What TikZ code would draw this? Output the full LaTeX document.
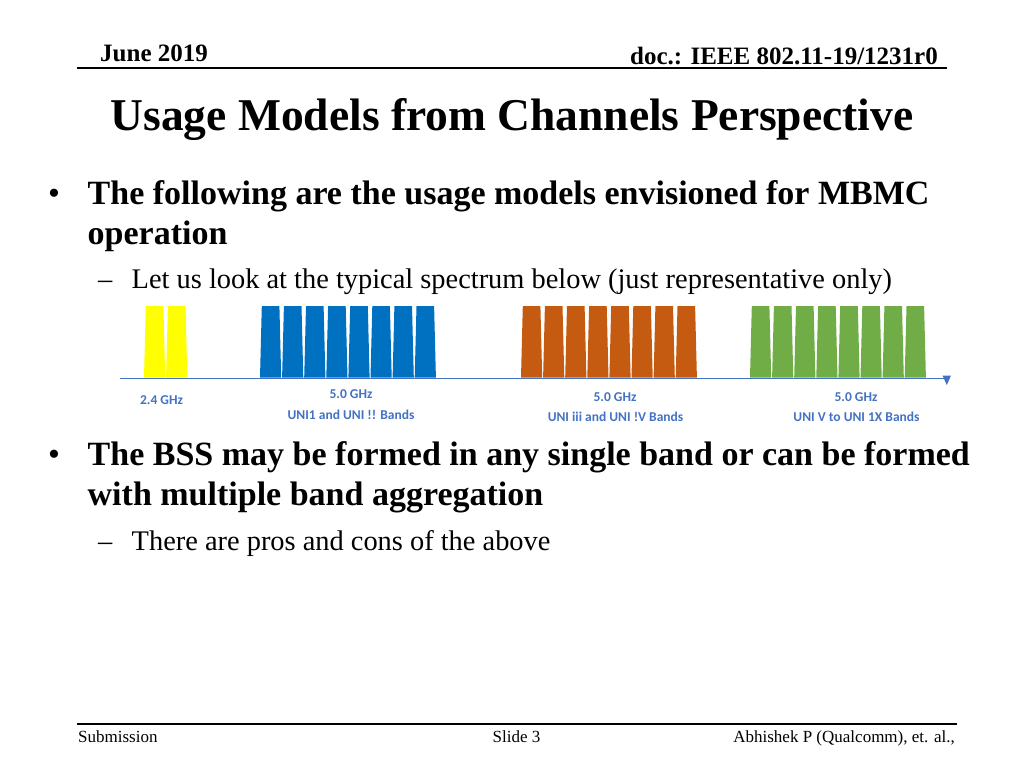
\documentclass[tikz,border=0pt]{standalone}
\usepackage{fontspec}
\setmainfont{Liberation Serif}
\newfontfamily\bandfont{Carlito}
\definecolor{bandyellow}{HTML}{FFFF00}
\definecolor{bandblue}{HTML}{0070C0}
\definecolor{bandorange}{HTML}{C55A11}
\definecolor{bandgreen}{HTML}{70AD47}
\definecolor{axisblue}{HTML}{4472C4}

\begin{document}
\begin{tikzpicture}[x=1pt, y=-1pt,
    headtext/.style = {inner sep=0pt, font=\fontsize{25}{30}\selectfont\bfseries},
    foottext/.style = {inner sep=0pt, font=\fontsize{17}{20}\selectfont},
    bullettext/.style = {inner sep=0pt, anchor=base west, font=\fontsize{34}{41}\selectfont\bfseries},
    subtext/.style = {inner sep=0pt, anchor=base west, font=\fontsize{28.4}{34}\selectfont},
    bandlabel/.style = {inner sep=0pt, text=axisblue, font=\bandfont\fontsize{13.5}{16}\selectfont\bfseries}]
  \useasboundingbox (0,0) rectangle (1024,768);
  \fill[white] (0,0) rectangle (1024,768);

  % header
  \node [headtext, anchor=base west] (date) at (100,61) {June 2019};
  \node [headtext, anchor=base east] (doc) at (938,64.3) {doc.: IEEE 802.11-19/1231r0};
  \draw [line width=1.4pt] (77,68) -- (947,68);

  \node [inner sep=0pt, anchor=base, font=\fontsize{45.5}{50}\selectfont\bfseries] (title) at (512,130.7) {Usage Models from Channels Perspective};

  % first bullet
  \node [bullettext, font=\fontsize{34}{41}\selectfont] (dot1) at (48,204) {•};
  \node [bullettext] (b1a) at (87.5,204) {The following are the usage models envisioned for MBMC};
  \node [bullettext] (b1b) at (87.5,244.5) {operation};
  \node [subtext] (dash1) at (98,288) {–};
  \node [subtext] (s1) at (131.5,288) {Let us look at the typical spectrum below (just representative only)};

  % spectrum
  \foreach \xs/\n/\col in {144/2/bandyellow, 260/8/bandblue, 521/8/bandorange, 750/8/bandgreen}{
    \foreach \i in {1,...,\n}{
      \pgfmathsetmacro{\xl}{\xs+22.1*(\i-1)}
      \fill [\col] (\xl,377.5) -- (\xl+1.8,306) -- (\xl+19.4,306) -- (\xl+21.2,377.5) -- cycle;
    }
  }
  \coordinate (axisstart) at (120,378.5);
  \coordinate (axisend) at (945,378.5);
  \draw [axisblue, line width=1.6pt] (axisstart) -- (axisend);
  \fill [axisblue] (942.5,375.5) -- (951,375.5) -- (946.8,385) -- cycle;

  \node [bandlabel] (l24) at (161.5,400) {2.4 GHz};
  \node [bandlabel] (l5a) at (351,394.5) {5.0 GHz};
  \node [bandlabel] (l5at) at (351,415) {UNI1 and UNI !! Bands};
  \node [bandlabel] (l5b) at (615,397) {5.0 GHz};
  \node [bandlabel] (l5bt) at (615.5,417) {UNI iii and UNI !V Bands};
  \node [bandlabel] (l5c) at (856,397) {5.0 GHz};
  \node [bandlabel] (l5ct) at (856.5,417) {UNI V to UNI 1X Bands};

  % second bullet
  \node [bullettext, font=\fontsize{34}{41}\selectfont] (dot2) at (48,465.7) {•};
  \node [bullettext] (b2a) at (87.5,465.7) {The BSS may be formed in any single band or can be formed};
  \node [bullettext] (b2b) at (87.5,505) {with multiple band aggregation};
  \node [subtext] (dash2) at (98,550) {–};
  \node [subtext] (s2) at (131.5,550) {There are pros and cons of the above};

  % footer
  \draw [line width=1.4pt] (77,724) -- (957,724);
  \node [foottext, anchor=base west] (sub) at (78,742.5) {Submission};
  \node [foottext, anchor=base] (slide) at (516.5,742.5) {Slide 3};
  \node [foottext, anchor=base east] (auth) at (955,742.5) {Abhishek P (Qualcomm), et. al.,};
\end{tikzpicture}
\end{document}
